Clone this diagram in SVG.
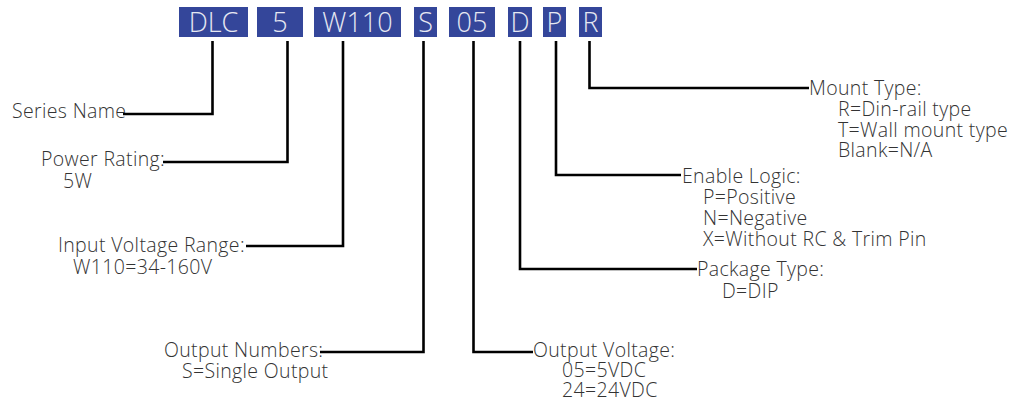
<svg xmlns="http://www.w3.org/2000/svg" width="1016" height="403" viewBox="0 0 1016 403">
<style>
.box{fill:#34469a}
.bt{font-family:"Open Sans","Liberation Sans",sans-serif;font-weight:300;font-size:27px;fill:#e6e8f2;text-anchor:middle}
.t{font-family:"Open Sans","Liberation Sans",sans-serif;font-weight:300;font-size:19.5px;letter-spacing:0.35px;fill:#333}
.c{fill:none;stroke:#000;stroke-width:2.6}
</style>
<rect width="1016" height="403" fill="#fff"/>
<g id="code">
<g id="box-dlc"><rect class="box" x="179" y="7" width="69" height="30"/><text class="bt" x="213.5" y="32">DLC</text></g>
<g id="box-5"><rect class="box" x="257" y="7" width="46" height="30"/><text class="bt" x="280" y="32">5</text></g>
<g id="box-w110"><rect class="box" x="314" y="7" width="87" height="30"/><text class="bt" x="357.5" y="32">W110</text></g>
<g id="box-s"><rect class="box" x="414" y="7" width="23" height="30"/><text class="bt" x="425.5" y="32">S</text></g>
<g id="box-05"><rect class="box" x="449" y="7" width="46" height="30"/><text class="bt" x="472" y="32">05</text></g>
<g id="box-d"><rect class="box" x="508" y="7" width="24" height="30"/><text class="bt" x="520" y="32">D</text></g>
<g id="box-p"><rect class="box" x="543" y="7" width="23" height="30"/><text class="bt" x="554.5" y="32">P</text></g>
<g id="box-r"><rect class="box" x="579" y="7" width="23" height="30"/><text class="bt" x="590.5" y="32">R</text></g>
</g>
<g id="connectors">
<polyline class="c" points="212.5,41 212.5,114 123,114"/>
<polyline class="c" points="287.5,41 287.5,162 163,162"/>
<polyline class="c" points="343,41 343,246 246,246"/>
<polyline class="c" points="423.5,41 423.5,352 320,352"/>
<polyline class="c" points="473.5,41 473.5,352 533,352"/>
<polyline class="c" points="520,41 520,269 697,269"/>
<polyline class="c" points="556,41 556,175 681,175"/>
<polyline class="c" points="589.5,41 589.5,88 809,88"/>
</g>
<g id="label-series"><text class="t" x="12" y="118">Series Name</text></g>
<g id="label-power"><text class="t" x="41" y="166">Power Rating:</text><text class="t" x="63" y="188">5W</text></g>
<g id="label-input"><text class="t" x="58" y="252">Input Voltage Range:</text><text class="t" x="73" y="274">W110=34-160V</text></g>
<g id="label-outnum"><text class="t" x="164" y="357">Output Numbers:</text><text class="t" x="182" y="378">S=Single Output</text></g>
<g id="label-outvolt"><text class="t" x="533" y="357">Output Voltage:</text><text class="t" x="562" y="377">05=5VDC</text><text class="t" x="562" y="397">24=24VDC</text></g>
<g id="label-package"><text class="t" x="697" y="276">Package Type:</text><text class="t" x="722" y="298">D=DIP</text></g>
<g id="label-enable"><text class="t" x="682" y="183">Enable Logic:</text><text class="t" x="703" y="204">P=Positive</text><text class="t" x="703" y="225">N=Negative</text><text class="t" x="703" y="246">X=Without RC &amp; Trim Pin</text></g>
<g id="label-mount"><text class="t" x="809" y="95">Mount Type:</text><text class="t" x="838" y="116">R=Din-rail type</text><text class="t" x="838" y="137">T=Wall mount type</text><text class="t" x="838" y="157">Blank=N/A</text></g>
</svg>
